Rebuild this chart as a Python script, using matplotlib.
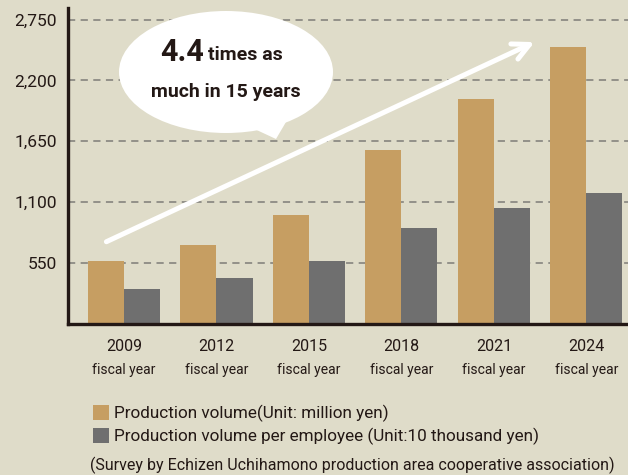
import numpy as np
import matplotlib
matplotlib.use("Agg")
import matplotlib.pyplot as plt
from matplotlib.patches import Ellipse, Polygon

plt.rcParams['font.family'] = ['Roboto', 'DejaVu Sans']

# data
years = ['2009', '2012', '2015', '2018', '2021', '2024']
production = [570, 716, 988, 1568, 2030, 2501]        # million yen
per_employee = [317, 417, 571, 870, 1051, 1187]       # 10 thousand yen
yticks = [550, 1100, 1650, 2200, 2750]

bg = '#dfdcc9'
gold = '#c69e62'
grey = '#6f6f6f'
ink = '#231815'

W, H = 628, 475
fig = plt.figure(figsize=(W / 100, H / 100), dpi=100, facecolor=bg)

def fx(px):
    return px / W

def fy(py):
    return 1 - py / H

ax = fig.add_axes([fx(68), fy(324), fx(628) - fx(68), fy(8) - fy(324)])
ax.set_facecolor(bg)

x = np.arange(len(years))
bw = 0.39
b1 = ax.bar(x - bw / 2, production, bw, color=gold, zorder=3)
b2 = ax.bar(x + bw / 2, per_employee, bw, color=grey, zorder=3)

ax.set_xlim(-0.605, 5.45)
ax.set_ylim(0, 2854)

ax.set_yticks(yticks, [f'{v:,}' for v in yticks])
ax.yaxis.grid(True, color='#8c8b84', linestyle=(0, (4, 3)), linewidth=1.3, zorder=1)
ax.tick_params(axis='y', length=0, pad=8, labelsize=12.5, labelcolor=ink)

ax.set_xticks(x, years)
ax.tick_params(axis='x', length=0, pad=11, labelsize=11.5, labelcolor=ink)
for xi in x:
    ax.annotate('fiscal year', xy=(xi, 0), xycoords=('data', 'axes fraction'),
                xytext=(0, -33), textcoords='offset points',
                ha='center', va='center', fontsize=10, color=ink)

for s in ['top', 'right']:
    ax.spines[s].set_visible(False)
for s in ['left', 'bottom']:
    ax.spines[s].set_color(ink)
    ax.spines[s].set_linewidth(2.4)
    ax.spines[s].set_zorder(4)

# growth arrow
ax.annotate('', xy=(4.44, 2546), xytext=(-0.19, 743),
            arrowprops=dict(arrowstyle='->,head_length=1.2,head_width=0.6',
                            color='white', lw=3.6, shrinkA=0, shrinkB=0),
            zorder=5)

# speech bubble
bubble = Ellipse((fx(226), fy(72)), fx(214), 122 / H, transform=fig.transFigure,
                 facecolor='white', edgecolor='none', zorder=6)
fig.patches.append(bubble)
tail = Polygon([(fx(248), fy(126)), (fx(286), fy(122)), (fx(276), fy(139))],
               closed=True, transform=fig.transFigure, facecolor='white',
               edgecolor='none', zorder=6)
fig.patches.append(tail)
fig.text(fx(204), fy(52), '4.4', ha='right', va='center', fontsize=22,
         fontweight='bold', color=ink, zorder=7)
fig.text(fx(208), fy(55), 'times as', ha='left', va='center', fontsize=14,
         fontweight='bold', color=ink, zorder=7)
fig.text(fx(226), fy(92), 'much in 15 years', ha='center', va='center', fontsize=14,
         fontweight='bold', color=ink, zorder=7)

# legend
fig.legend([b1, b2],
           ['Production volume(Unit: million yen)',
            'Production volume per employee (Unit:10 thousand yen)'],
           loc='upper left', bbox_to_anchor=(fx(86), fy(398)), frameon=False,
           handlelength=0.95, handleheight=0.95, handletextpad=0.3,
           labelspacing=0.35, fontsize=12.3, labelcolor=ink, borderaxespad=0)

fig.text(fx(90), fy(465), '(Survey by Echizen Uchihamono production area cooperative association)',
         ha='left', va='center', fontsize=11.5, color=ink)

fig.savefig('out.png', dpi=100, facecolor=bg)
